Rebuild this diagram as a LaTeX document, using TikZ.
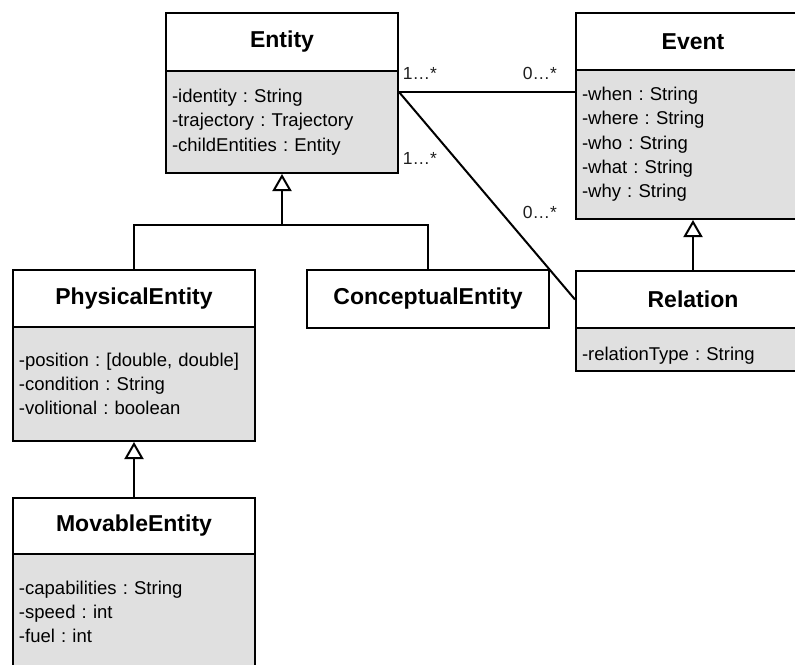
\documentclass[tikz,border=0pt]{standalone}
\usepackage{fontspec}
\setmainfont{Liberation Sans}
\usetikzlibrary{arrows.meta,calc}
\definecolor{attrgray}{RGB}{224,224,224}
\definecolor{labelgray}{RGB}{30,30,30}
\frenchspacing
\begin{document}
\begin{tikzpicture}[x=1pt,y=-1pt,
  box/.style={draw=black, line width=2pt, rectangle, anchor=north west, inner sep=0pt},
  titlebox/.style={box, fill=white, font=\fontsize{23}{27}\selectfont\bfseries},
  attrbox/.style={box, fill=attrgray, font=\fontsize{18.5}{24.3}\selectfont\frenchspacing, align=left, inner xsep=6pt},
  assoc/.style={draw=black, line width=2pt},
  inh/.style={draw=black, line width=2pt, -{Triangle[open, length=17pt 0 0, width=19pt 0 0, fill=white]}},
  mult/.style={font=\fontsize{17.5}{20}\selectfont, text=labelgray, inner sep=0pt}
]
\useasboundingbox (0,0) rectangle (795,664);
\clip (0,0) rectangle (795,664);

% Entity
\node[titlebox, minimum width=232pt, minimum height=58pt] (entityT) at (165,12) {Entity};
\node[attrbox, minimum width=232pt, minimum height=102pt, text width=220pt] (entityA) at (165,70)
  {-identity : String\\-trajectory : Trajectory\\-childEntities : Entity};

% Event
\node[titlebox, minimum width=234pt, minimum height=57pt] (eventT) at (575,12) {Event};
\node[attrbox, minimum width=234pt, minimum height=149pt, text width=222pt] (eventA) at (575,69)
  {-when : String\\-where : String\\-who : String\\-what : String\\-why : String};

% Relation
\node[titlebox, minimum width=234pt, minimum height=57pt] (relT) at (575,270) {Relation};
\node[attrbox, minimum width=234pt, minimum height=43pt, text width=222pt] (relA) at (575,327)
  {\rule{0pt}{25pt}-relationType : String};

% PhysicalEntity
\node[titlebox, minimum width=242pt, minimum height=57pt] (physT) at (12,269) {PhysicalEntity};
\node[attrbox, minimum width=242pt, minimum height=114pt, text width=230pt] (physA) at (12,326)
  {-position : [double, double]\\-condition : String\\-volitional : boolean};

% ConceptualEntity
\node[titlebox, minimum width=242pt, minimum height=58pt] (conceptT) at (306,269) {ConceptualEntity};

% MovableEntity
\node[titlebox, minimum width=242pt, minimum height=56pt] (movT) at (12,497) {MovableEntity};
\node[attrbox, minimum width=242pt, minimum height=116pt, text width=230pt] (movA) at (12,553)
  {-capabilities : String\\-speed : int\\-fuel : int};

% associations
\coordinate (assocStart) at ([yshift=-22pt]entityA.north east);
\draw[assoc] (assocStart) -- (assocStart -| eventA.west);
\draw[assoc] (assocStart) -- (relT.west);

% multiplicities
\node[mult] (m1) at (420,73) {1…*};
\node[mult] (m2) at (540,73) {0…*};
\node[mult] (m3) at (420,158) {1…*};
\node[mult] (m4) at (540,212) {0…*};

% generalizations
\coordinate (bar) at (0,225);
\draw[assoc] (physT.north) |- (bar -| conceptT.north) -- (conceptT.north);
\draw[inh] (bar -| entityA.south) -- (entityA.south);
\draw[inh] (relT.north) -- (eventA.south);
\draw[inh] (movT.north) -- (physA.south);
\end{tikzpicture}
\end{document}
